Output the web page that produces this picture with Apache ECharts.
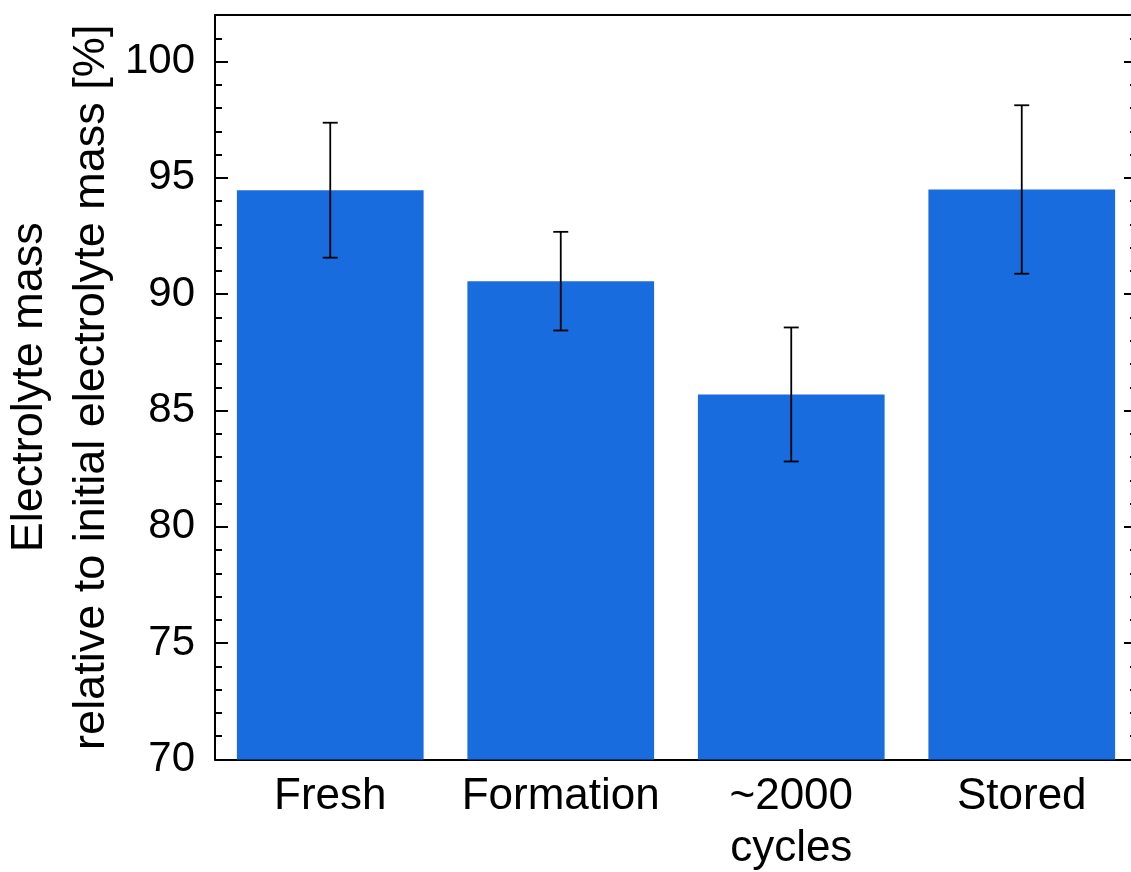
<!DOCTYPE html>
<html>
<head>
<meta charset="utf-8">
<script src="https://cdn.jsdelivr.net/npm/echarts@6/dist/echarts.min.js"></script>
<style>
  html, body { margin: 0; padding: 0; background: #fff; overflow: hidden; }
  #chart { width: 1131px; height: 872px; }
</style>
</head>
<body>
<div id="chart"></div>
<script>
// Electrolyte mass remaining per cell state (mean and standard deviation, %)
const categories = ['Fresh', 'Formation', '~2000\ncycles', 'Stored'];
const meanValues = [94.47, 90.56, 85.69, 94.50];
const errorValues = [2.90, 2.12, 2.88, 3.62];

const FONT = '"Liberation Sans", Arial, sans-serif';
const BAR_COLOR = '#186CDE';

const chart = echarts.init(document.getElementById('chart'), null, { renderer: 'canvas' });

const errorData = meanValues.map((m, i) => [i, m - errorValues[i], m + errorValues[i]]);

const yBase = {
  type: 'value',
  min: 70,
  max: 102,
  interval: 5,
  splitLine: { show: false },
  axisLine: { show: true, lineStyle: { color: '#000', width: 2 } },
  axisTick: { show: true, inside: true, length: 13, lineStyle: { color: '#000', width: 2 } },
  minorTick: { show: true, splitNumber: 5, length: 7, lineStyle: { color: '#000', width: 2 } },
  minorSplitLine: { show: false }
};

chart.setOption({
  animation: false,
  backgroundColor: '#fff',
  grid: {
    left: 215, right: -6, top: 15, bottom: 112.5,
    containLabel: false,
    outerBoundsMode: 'none'
  },
  xAxis: [
    {
      type: 'category',
      data: categories,
      position: 'bottom',
      axisLine: { show: true, onZero: false, lineStyle: { color: '#000', width: 2 } },
      axisTick: { show: false },
      axisLabel: {
        color: '#000',
        fontFamily: FONT,
        fontSize: 44,
        lineHeight: 52,
        margin: 11,
        interval: 0
      }
    },
    {
      type: 'category',
      data: categories,
      position: 'top',
      axisLine: { show: true, onZero: false, lineStyle: { color: '#000', width: 2 } },
      axisTick: { show: false },
      axisLabel: { show: false }
    }
  ],
  yAxis: [
    Object.assign({}, yBase, {
      position: 'left',
      name: 'Electrolyte mass\nrelative to initial electrolyte mass [%]',
      nameLocation: 'middle',
      nameGap: 92,
      nameMoveOverlap: false,
      nameTextStyle: {
        color: '#000',
        fontFamily: FONT,
        fontSize: 45,
        lineHeight: 62
      },
      axisLabel: {
        color: '#000',
        fontFamily: FONT,
        fontSize: 42,
        margin: 20,
        showMaxLabel: false
      }
    }),
    Object.assign({}, yBase, {
      position: 'right',
      axisLabel: { show: false }
    })
  ],
  series: [
    {
      type: 'bar',
      data: meanValues,
      barCategoryGap: '19%',
      itemStyle: { color: BAR_COLOR },
      z: 2
    },
    {
      type: 'custom',
      data: errorData,
      z: 5,
      renderItem: function (params, api) {
        const x = api.value(0);
        const lo = api.coord([x, api.value(1)]);
        const hi = api.coord([x, api.value(2)]);
        const half = 7.5;
        const style = { stroke: '#000', lineWidth: 1.8 };
        return {
          type: 'group',
          children: [
            { type: 'line', shape: { x1: hi[0], y1: hi[1], x2: lo[0], y2: lo[1] }, style: style },
            { type: 'line', shape: { x1: hi[0] - half, y1: hi[1], x2: hi[0] + half, y2: hi[1] }, style: style },
            { type: 'line', shape: { x1: lo[0] - half, y1: lo[1], x2: lo[0] + half, y2: lo[1] }, style: style }
          ]
        };
      }
    }
  ]
});
</script>
</body>
</html>
